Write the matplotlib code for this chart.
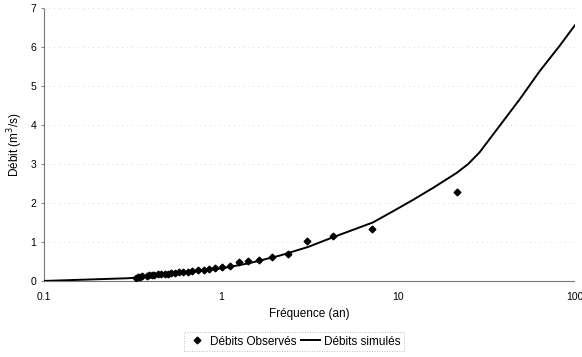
import numpy as np
import matplotlib
matplotlib.use("Agg")
import matplotlib.pyplot as plt

plt.rcParams['font.family'] = ['Liberation Sans', 'DejaVu Sans']

# observed flows (return period in years, flow m3/s)
freq_obs = [21.5, 7.17, 4.30, 3.07, 2.39, 1.95, 1.65, 1.43, 1.26, 1.13, 1.02,
            0.93, 0.86, 0.80, 0.74, 0.69, 0.65, 0.61, 0.58, 0.55, 0.52, 0.50,
            0.48, 0.46, 0.44, 0.42, 0.41, 0.39, 0.38, 0.36, 0.35, 0.34, 0.33]
q_obs = [2.28, 1.33, 1.15, 1.03, 0.68, 0.62, 0.55, 0.50, 0.49, 0.38, 0.35,
         0.33, 0.31, 0.29, 0.27, 0.26, 0.24, 0.23, 0.22, 0.21, 0.20, 0.19,
         0.18, 0.18, 0.17, 0.16, 0.15, 0.14, 0.13, 0.12, 0.11, 0.10, 0.07]

# simulated flows
freq_sim = [0.1, 0.3, 0.4, 0.5, 0.6, 0.76, 1.0, 1.12, 1.46, 2.15, 3.1, 4.3,
            5.5, 7.23, 9.5, 12.2, 16.0, 21.5, 25.0, 29.0, 48.9, 63.4, 82.2, 100]
q_sim = [0.0, 0.07, 0.12, 0.17, 0.21, 0.26, 0.32, 0.36, 0.46, 0.65, 0.87, 1.12,
         1.30, 1.50, 1.80, 2.08, 2.40, 2.77, 3.00, 3.30, 4.66, 5.38, 6.03, 6.55]

fig = plt.figure(figsize=(5.82, 3.57), dpi=100)
ax = fig.add_axes([0.0756, 0.213, 0.912, 0.765])

ax.plot(freq_sim, q_sim, color='black', lw=1.4, label='Débits simulés', zorder=3)
ax.plot(freq_obs, q_obs, 'D', color='black', ms=3.4, label='Débits Observés', zorder=4)

ax.set_xscale('log')
ax.set_xlim(0.1, 100)
ax.set_ylim(0, 7)
ax.set_xticks([0.1, 1, 10, 100])
ax.set_xticklabels(['0.1', '1', '10', '100'])
ax.xaxis.set_minor_locator(matplotlib.ticker.NullLocator())
ax.set_yticks(range(8))
ax.tick_params(labelsize=7.5, length=2, color='#888888')
ax.tick_params(axis='x', length=0, pad=8)

for y in range(1, 8):
    ax.axhline(y, color='#bbbbbb', lw=0.5, ls=(0, (1, 6)), zorder=1)

for s in ['top', 'right']:
    ax.spines[s].set_visible(False)
ax.spines['left'].set_color('#777777')
ax.spines['left'].set_linestyle((0, (1, 1)))
ax.spines['bottom'].set_color('#777777')
ax.spines['bottom'].set_linestyle((0, (1, 1)))

ax.set_xlabel('Fréquence (an)', fontsize=8.5)
ax.set_ylabel('Débit (m$^3$/s)', fontsize=8.5)

handles, labels = ax.get_legend_handles_labels()
leg = fig.legend(handles[::-1], labels[::-1], loc='lower center',
                 bbox_to_anchor=(0.505, 0.0), ncol=2, fontsize=8.5,
                 frameon=True, fancybox=False, handlelength=1.6,
                 columnspacing=0.4, handletextpad=0.3, borderpad=0.3)
leg.get_frame().set_edgecolor('#999999')
leg.get_frame().set_linestyle((0, (1, 2)))
leg.get_frame().set_linewidth(0.6)

fig.savefig('out.png', dpi=100)
